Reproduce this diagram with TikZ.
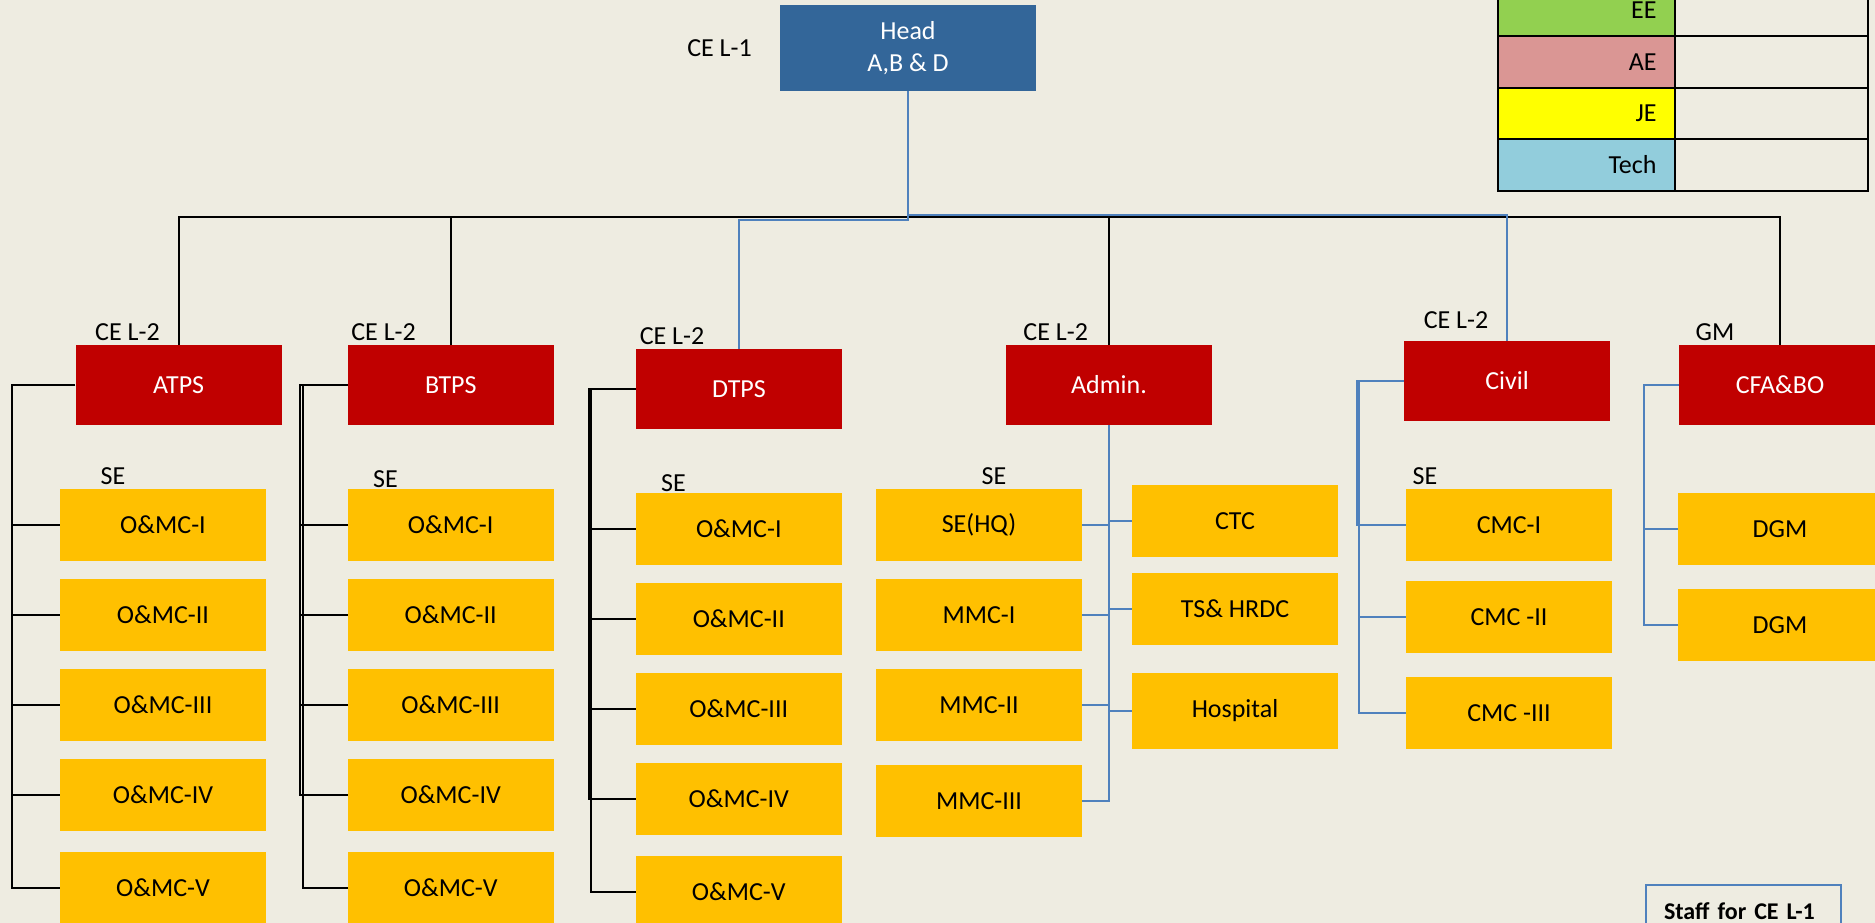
\documentclass[tikz,border=0pt]{standalone}
\usepackage{fontspec}
\setmainfont{Carlito}
\usepackage{tikz}
\usetikzlibrary{positioning}
\definecolor{paper}{HTML}{EEECE1}
\definecolor{headblue}{HTML}{336699}
\definecolor{unitred}{HTML}{C00000}
\definecolor{officegold}{HTML}{FFC000}
\definecolor{linkblue}{HTML}{4F81BD}
\definecolor{eegreen}{HTML}{92D050}
\definecolor{aepink}{HTML}{DA9694}
\definecolor{jeyellow}{HTML}{FFFF00}
\definecolor{techblue}{HTML}{92CDDC}

\begin{document}
\begin{tikzpicture}[
    x=1pt, y=-1pt,
    node distance=90pt,
    font=\fontsize{26}{32}\selectfont,
    head/.style={
		rectangle,
		fill=headblue,
		text=white,
		align=center,
		minimum width=256pt,
		minimum height=86pt
	},
    unit/.style={
		rectangle,
		fill=unitred,
		text=white,
		minimum width=206pt,
		minimum height=80pt
	},
    office/.style={
		rectangle,
		fill=officegold,
		minimum width=206pt,
		minimum height=72pt
	},
    legend/.style={
		rectangle,
		draw=black,
		line width=2pt,
		minimum width=177pt,
		minimum height=51.5pt,
		text width=140pt,
		align=right
	},
    staff/.style={
		rectangle,
		draw=linkblue,
		line width=2pt,
		inner xsep=18pt,
		text width=159pt,
		minimum height=52pt,
		align=left,
		font=\fontsize{24}{28}\selectfont\bfseries
	},
	tag/.style={
		inner sep=0pt
	},
	blackline/.style={draw=black, line width=2pt},
	blueline/.style={draw=linkblue, line width=2pt}
  ]
  \useasboundingbox (0,0) rectangle (1875,923);
  \clip (0,0) rectangle (1875,923);
  \fill [paper] (0,0) rectangle (1875,923);

    % We start by placing the blocks
  \node [head] (head) at (908,48) {Head\\A,B \& D};
  \node [tag] (tagce1) at (719.5,48) {CE L-1};

  \node [unit] (atps) at (178.6,385) {ATPS};
  \node [unit] (btps) at (450.8,385) {BTPS};
  \node [unit] (dtps) at (739,389) {DTPS};
  \node [unit] (admin) at (1109,385) {Admin.};
  \node [unit] (civil) at (1507,381) {Civil};
  \node [unit, minimum width=202pt] (cfa) at (1780,385) {CFA\&BO};

  \node [tag] (tagatps) at (127.5,332) {CE L-2};
  \node [tag] (tagbtps) at (383.6,332) {CE L-2};
  \node [tag] (tagdtps) at (672,336) {CE L-2};
  \node [tag] (tagadmin) at (1055.7,332) {CE L-2};
  \node [tag] (tagcivil) at (1456,320) {CE L-2};
  \node [tag] (tagcfa) at (1715,332) {GM};

  % ATPS column
  \node [tag] (seatps) at (113,476) {SE};
  \node [office] (omcA1) at (163,525) {O\&MC-I};
  \node [office, below of=omcA1] (omcA2) {O\&MC-II};
  \node [office, below of=omcA2] (omcA3) {O\&MC-III};
  \node [office, below of=omcA3] (omcA4) {O\&MC-IV};
  \node [office, below of=omcA4, yshift=-3pt] (omcA5) {O\&MC-V};

  % BTPS column
  \node [tag] (sebtps) at (385.5,479) {SE};
  \node [office] (omcB1) at (450.7,525) {O\&MC-I};
  \node [office, below of=omcB1] (omcB2) {O\&MC-II};
  \node [office, below of=omcB2] (omcB3) {O\&MC-III};
  \node [office, below of=omcB3] (omcB4) {O\&MC-IV};
  \node [office, below of=omcB4, yshift=-3pt] (omcB5) {O\&MC-V};

  % DTPS column
  \node [tag] (sedtps) at (673.5,482.7) {SE};
  \node [office] (omcD1) at (738.8,529) {O\&MC-I};
  \node [office, below of=omcD1] (omcD2) {O\&MC-II};
  \node [office, below of=omcD2] (omcD3) {O\&MC-III};
  \node [office, below of=omcD3] (omcD4) {O\&MC-IV};
  \node [office, below of=omcD4, yshift=-3pt] (omcD5) {O\&MC-V};

  % Admin. columns
  \node [tag] (seadmin) at (994,476) {SE};
  \node [office] (sehq) at (979,525) {SE(HQ)};
  \node [office, below of=sehq] (mmc1) {MMC-I};
  \node [office, below of=mmc1] (mmc2) {MMC-II};
  \node [office, below of=mmc2, yshift=-6pt] (mmc3) {MMC-III};
  \node [office] (ctc) at (1235,521) {CTC};
  \node [office, below of=ctc, yshift=2pt] (tshrdc) {TS\& HRDC};
  \node [office, below of=tshrdc, yshift=-12pt, minimum height=76pt] (hospital) {Hospital};

  % Civil column
  \node [tag] (secivil) at (1425,476) {SE};
  \node [office] (cmc1) at (1509,525) {CMC-I};
  \node [office, below of=cmc1, yshift=-2pt] (cmc2) {CMC -II};
  \node [office, below of=cmc2, yshift=-6pt] (cmc3) {CMC -III};

  % CFA&BO column
  \node [office, minimum width=204pt] (dgm1) at (1780,529) {DGM};
  \node [office, minimum width=204pt, below of=dgm1, yshift=-6pt] (dgm2) {DGM};

  % legend
  \node [legend, fill=eegreen] (legEE) at (1586.5,10.5) {EE};
  \node [legend, fill=aepink] (legAE) at (1586.5,62) {AE};
  \node [legend, fill=jeyellow] (legJE) at (1586.5,113.5) {JE};
  \node [legend, fill=techblue] (legTech) at (1586.5,165) {Tech};
  \node [legend, minimum width=193pt, right of=legEE, node distance=185pt] (valEE) {};
  \node [legend, minimum width=193pt, right of=legAE, node distance=185pt] (valAE) {};
  \node [legend, minimum width=193pt, right of=legJE, node distance=185pt] (valJE) {};
  \node [legend, minimum width=193pt, right of=legTech, node distance=185pt] (valTech) {};

  \node [staff, anchor=north west] (staff) at (1645,884) {Staff for CE L-1};

  % top level
  \coordinate (bus) at (0,217);
  \coordinate (busL) at (0,219.5);
  \coordinate (busR) at (0,215);
  \draw [blackline] (atps.north) -- (atps.north |- bus) -- (cfa.north |- bus) -- (cfa.north);
  \draw [blackline] (btps.north) -- (btps.north |- bus);
  \draw [blackline] (admin.north) -- (admin.north |- bus);
  \draw [blueline] (head.south) -- (head.south |- busL) -- (dtps.north |- busL) -- (dtps.north);
  \draw [blueline] (head.south |- busL) -- (head.south |- busR) -- (civil.north |- busR) -- (civil.north);

  % ATPS links
  \coordinate (aspine) at (12,0);
  \draw [blackline] (atps.west) -- (atps.west -| aspine) -- (aspine |- omcA5) -- (omcA5);
  \draw [blackline] (aspine |- omcA1) -- (omcA1);
  \draw [blackline] (aspine |- omcA2) -- (omcA2);
  \draw [blackline] (aspine |- omcA3) -- (omcA3);
  \draw [blackline] (aspine |- omcA4) -- (omcA4);

  % BTPS links
  \coordinate (bspine) at (300,0);
  \coordinate (bspineb) at (303,0);
  \draw [blackline] (btps.west) -- (btps.west -| bspine) -- (bspine |- omcB4) -- (omcB4);
  \draw [blackline] (btps.west -| bspineb) -- (bspineb |- omcB5) -- (omcB5);
  \draw [blackline] (bspine |- omcB1) -- (omcB1);
  \draw [blackline] (bspine |- omcB2) -- (omcB2);
  \draw [blackline] (bspine |- omcB3) -- (omcB3);

  % DTPS links
  \coordinate (dspine) at (588.5,0);
  \coordinate (dspineb) at (591,0);
  \draw [blackline] (dtps.west) -- (dtps.west -| dspine) -- (dspine |- omcD4) -- (omcD4);
  \draw [blackline] (dtps.west) -- (dtps.west -| dspineb) -- (dspineb |- omcD5) -- (omcD5);
  \draw [blackline] (dspine |- omcD1) -- (omcD1);
  \draw [blackline] (dspine |- omcD2) -- (omcD2);
  \draw [blackline] (dspine |- omcD3) -- (omcD3);

  % Admin. links
  \draw [blueline] (admin.south) -- (admin.south |- mmc3) -- (mmc3);
  \draw [blueline] (admin.south |- sehq) -- (sehq);
  \draw [blueline] (admin.south |- mmc1) -- (mmc1);
  \draw [blueline] (admin.south |- mmc2) -- (mmc2);
  \draw [blueline] (admin.south |- ctc) -- (ctc);
  \draw [blueline] (admin.south |- tshrdc) -- (tshrdc);
  \draw [blueline] (admin.south |- hospital) -- (hospital);

  % Civil links
  \coordinate (cspine) at (1356.5,0);
  \coordinate (cspineb) at (1359,0);
  \draw [blueline] (civil.west) -- (civil.west -| cspine) -- (cspine |- cmc1) -- (cmc1);
  \draw [blueline] (civil.west -| cspineb) -- (cspineb |- cmc3) -- (cmc3);
  \draw [blueline] (cspineb |- cmc2) -- (cmc2);

  % CFA&BO links
  \coordinate (fspine) at (1643.5,0);
  \draw [blueline] (cfa.west) -- (cfa.west -| fspine) -- (fspine |- dgm2) -- (dgm2);
  \draw [blueline] (fspine |- dgm1) -- (dgm1);

\end{tikzpicture}
\end{document}
